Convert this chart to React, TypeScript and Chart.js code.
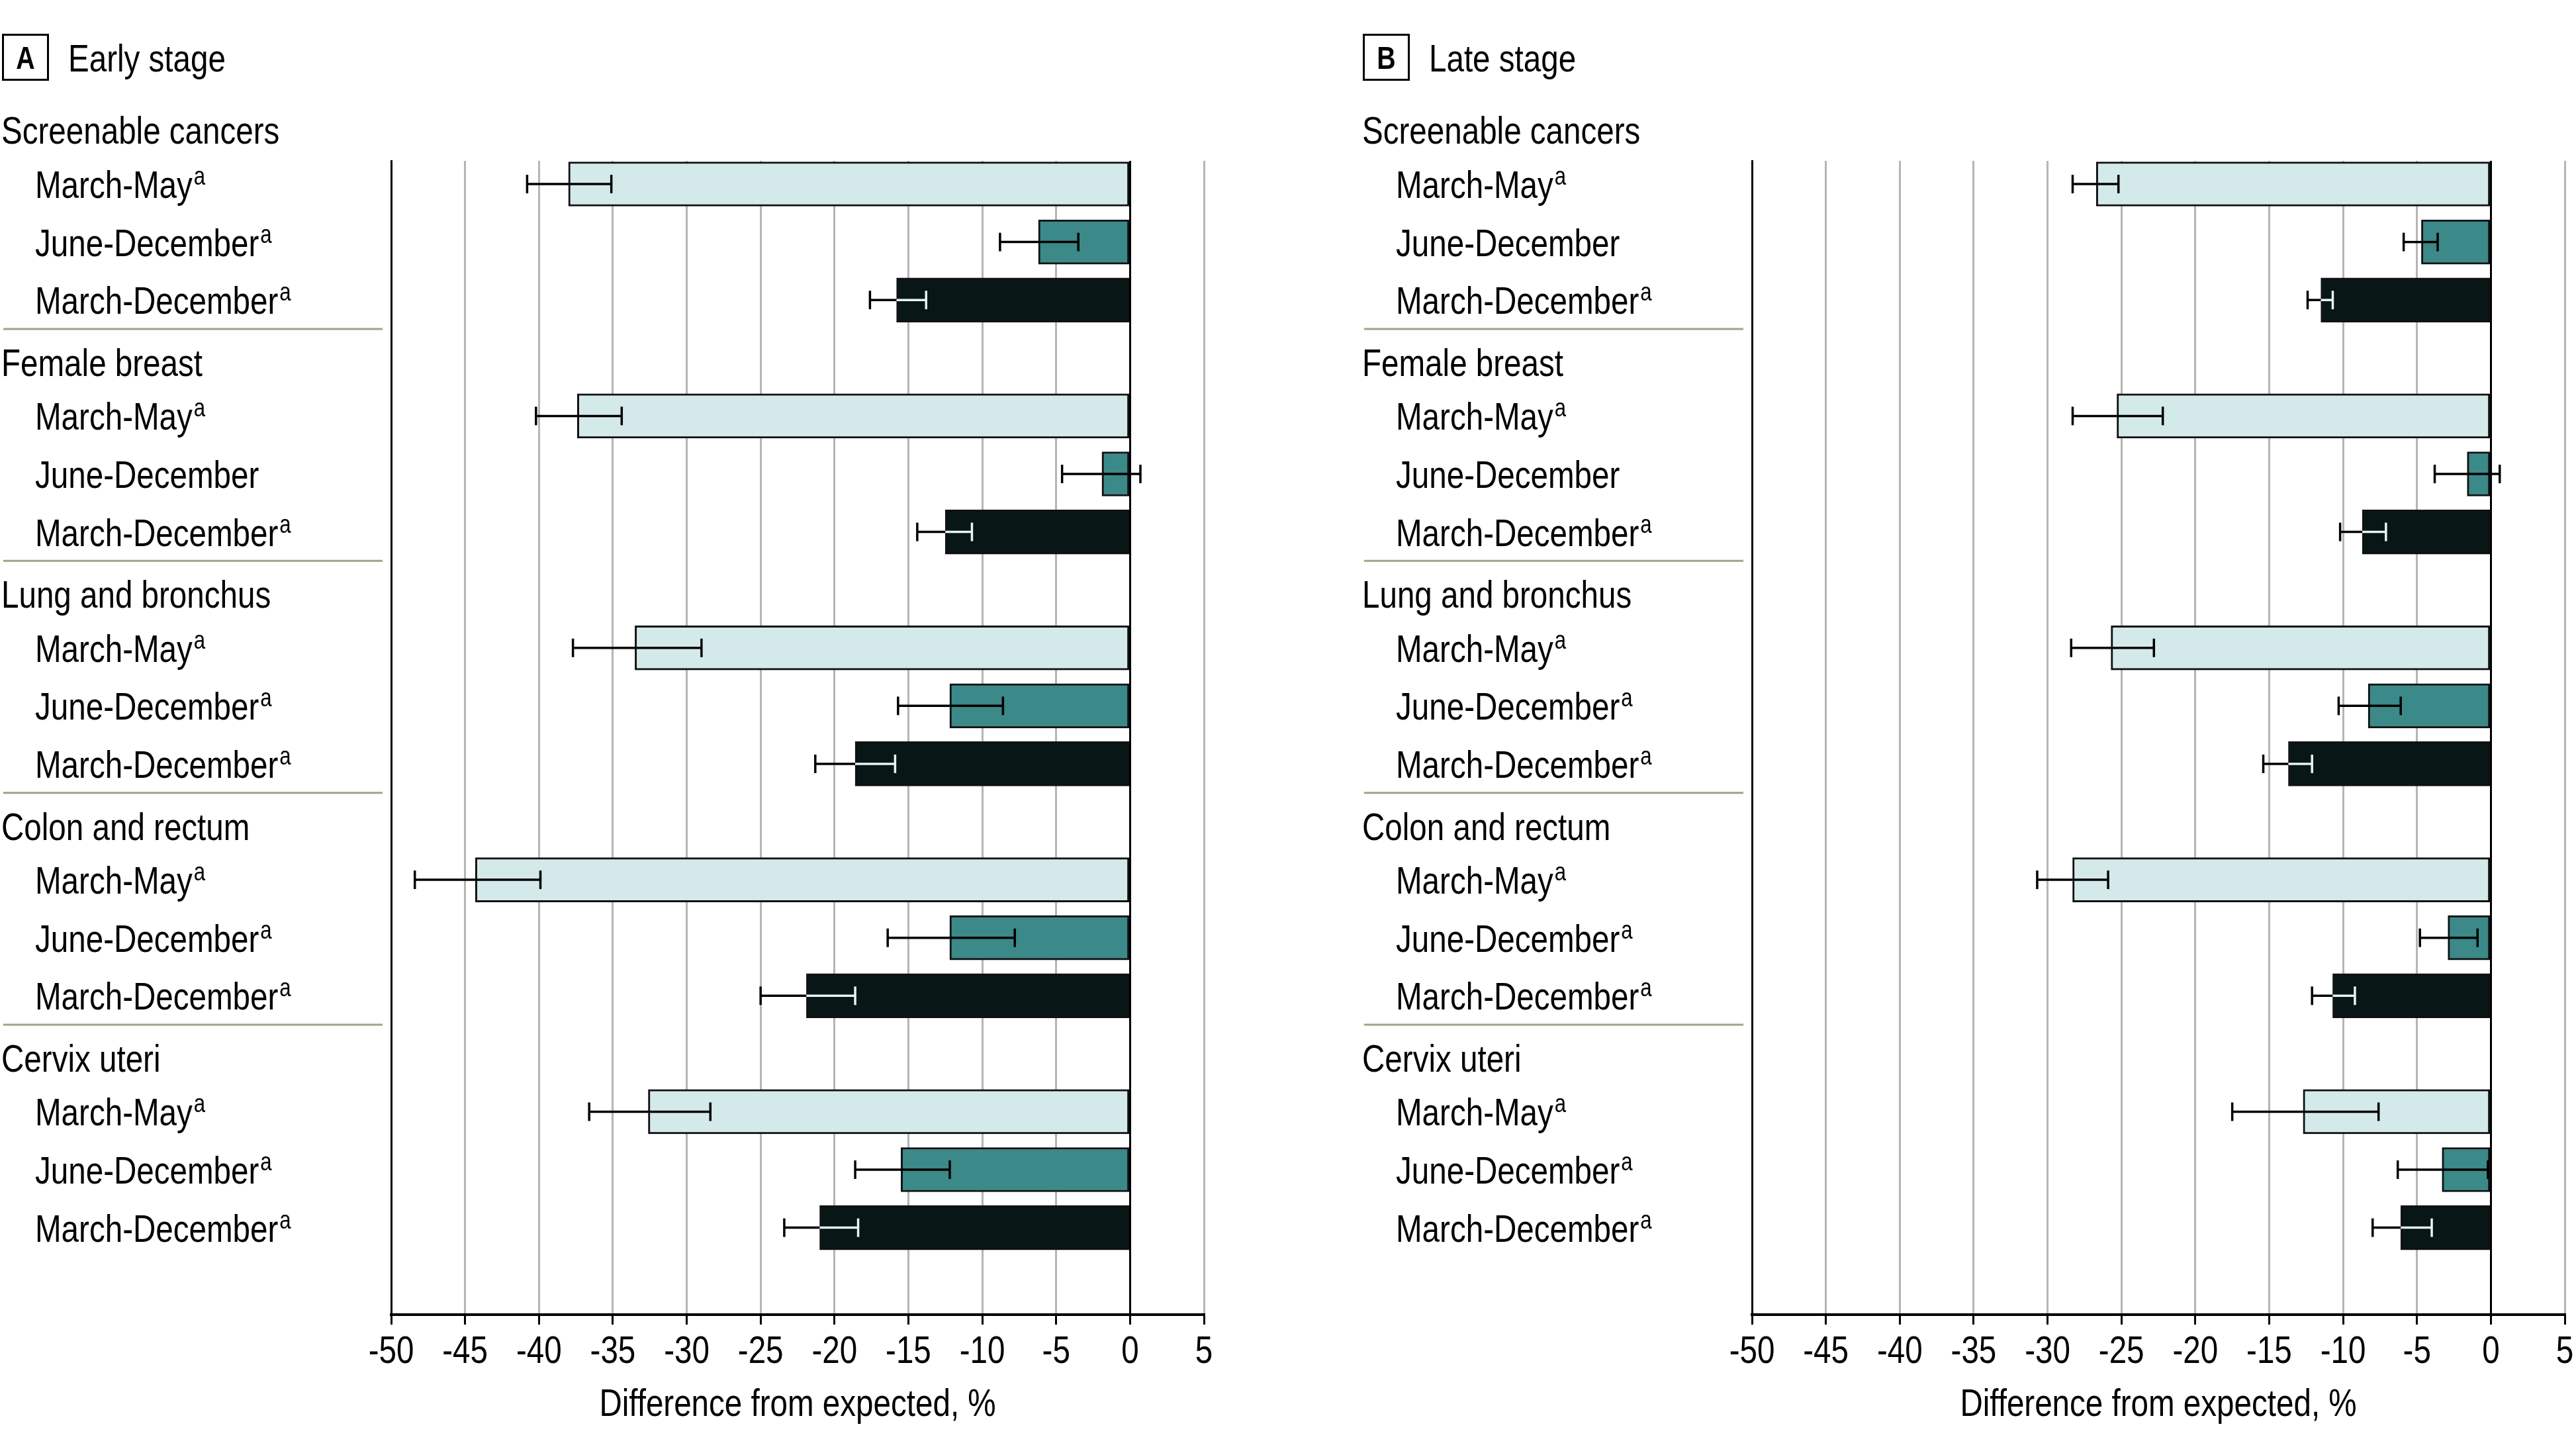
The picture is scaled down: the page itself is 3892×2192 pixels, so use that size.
import React, { useEffect, useRef } from 'react';
import { Chart, registerables } from 'chart.js';

Chart.register(...registerables);

const FONT = '"Liberation Sans", Arial, sans-serif';
const SX = 0.82; // horizontal compression to emulate a narrow face

const groups = ['Screenable cancers', 'Female breast', 'Lung and bronchus', 'Colon and rectum', 'Cervix uteri'];
const periods = ['March-May', 'June-December', 'March-December'];
const xTickMin = -50;
const xTickMax = 5;
const xTickStep = 5;
const axisTitle = 'Difference from expected, %';

// Early stage (panel A), order: group x period
const earlyValues = [-38.0, -6.2, -15.8, -37.4, -1.9, -12.5, -33.5, -12.2, -18.6, -44.3, -12.2, -21.9, -32.6, -15.5, -21.0];
const earlyLow = [-40.8, -8.8, -17.6, -40.2, -4.6, -14.4, -37.7, -15.7, -21.3, -48.4, -16.4, -25.0, -36.6, -18.6, -23.4];
const earlyHigh = [-35.1, -3.5, -13.8, -34.4, 0.7, -10.7, -29.0, -8.6, -15.9, -39.9, -7.8, -18.6, -28.4, -12.2, -18.4];
const earlySup = [true, true, true, true, false, true, true, true, true, true, true, true, true, true, true];

// Late stage (panel B)
const lateValues = [-26.7, -4.7, -11.5, -25.3, -1.6, -8.7, -25.7, -8.3, -13.7, -28.3, -2.9, -10.7, -12.7, -3.3, -6.1];
const lateLow = [-28.3, -5.9, -12.4, -28.3, -3.8, -10.2, -28.4, -10.3, -15.4, -30.7, -4.8, -12.1, -17.5, -6.3, -8.0];
const lateHigh = [-25.2, -3.6, -10.7, -22.2, 0.6, -7.1, -22.8, -6.1, -12.1, -25.9, -0.9, -9.2, -7.6, -0.2, -4.0];
const lateSup = [true, false, true, true, false, true, true, true, true, true, true, true, true, true, true];

const periodColors = ['#d4e9ea', '#3b8988', '#081716'];
const periodInnerErr = ['#000000', '#000000', '#e8f4f4'];

const W = 1834;
const H = 2192;

type PanelProps = {
  letter: string;
  title: string;
  values: number[];
  lows: number[];
  highs: number[];
  sups: boolean[];
  left: number;
};

function slotOf(i: number) {
  const g = Math.floor(i / 3);
  const p = i % 3;
  return 4 * g + p + 1;
}

function drawText(
  c: CanvasRenderingContext2D,
  text: string,
  x: number,
  y: number,
  size: number,
  bold = false,
  align: 'left' | 'center' = 'left'
) {
  c.save();
  c.font = `${bold ? 'bold ' : ''}${size}px ${FONT}`;
  c.textAlign = 'left';
  c.textBaseline = 'alphabetic';
  const w = c.measureText(text).width * SX;
  const x0 = align === 'center' ? x - w / 2 : x;
  c.translate(x0, y);
  c.scale(SX, 1);
  c.fillText(text, 0, 0);
  c.restore();
  return w;
}

function Panel({ letter, title, values, lows, highs, sups, left }: PanelProps) {
  const ref = useRef<HTMLCanvasElement | null>(null);

  useEffect(() => {
    const canvas = ref.current;
    if (!canvas) return;

    const errorBars = {
      id: 'errorBars',
      afterDatasetsDraw(chart: any) {
        const c = chart.ctx;
        const xs = chart.scales.x;
        const meta = chart.getDatasetMeta(0);
        const base = xs.getPixelForValue(0);
        c.save();
        c.lineWidth = 3.5;
        meta.data.forEach((bar: any, i: number) => {
          const p = i % 3;
          const y = bar.y;
          const xv = bar.x;
          const xlo = xs.getPixelForValue(lows[i]);
          const xhi = xs.getPixelForValue(highs[i]);
          const inside = (x: number) => x > Math.min(xv, base) && x < Math.max(xv, base);
          const colAt = (x: number) => (inside(x) ? periodInnerErr[p] : '#000');
          const lo = Math.min(xlo, xhi);
          const hi = Math.max(xlo, xhi);
          const cuts = [Math.min(xv, base), Math.max(xv, base)].filter((v) => v > lo && v < hi);
          const pts = [lo, ...cuts, hi];
          for (let k = 0; k < pts.length - 1; k++) {
            const a = pts[k];
            const b = pts[k + 1];
            c.strokeStyle = colAt((a + b) / 2);
            c.beginPath();
            c.moveTo(a, y);
            c.lineTo(b, y);
            c.stroke();
          }
          [xlo, xhi].forEach((x) => {
            c.strokeStyle = colAt(x);
            c.beginPath();
            c.moveTo(x, y - 14);
            c.lineTo(x, y + 14);
            c.stroke();
          });
        });
        c.restore();
      },
    };

    const labels = {
      id: 'rowLabels',
      afterDraw(chart: any) {
        const c = chart.ctx;
        const ys = chart.scales.y;
        const xs = chart.scales.x;
        c.save();
        c.fillStyle = '#000';
        c.strokeStyle = '#000';
        // panel box and title
        c.lineWidth = 3;
        c.strokeRect(4.5, 52.5, 68, 68);
        drawText(c, letter, 38.5, 87 + 17, 48, true, 'center');
        drawText(c, title, 103, 87 + 21, 58);

        groups.forEach((g, gi) => {
          const hy = ys.getPixelForValue(4 * gi);
          drawText(c, g, 2, hy + 6 + 21, 58);
          periods.forEach((p, pi) => {
            const idx = gi * 3 + pi;
            const y = ys.getPixelForValue(4 * gi + pi + 1);
            const w = drawText(c, p, 53, y + 21, 58);
            if (sups[idx]) {
              drawText(c, 'a', 53 + w + 2, y + 21 - 20, 38);
            }
          });
          if (gi < groups.length - 1) {
            const sy = ys.getPixelForValue(4 * gi + 3.5);
            c.strokeStyle = '#9ea38b';
            c.lineWidth = 3;
            c.beginPath();
            c.moveTo(5, sy);
            c.lineTo(578, sy);
            c.stroke();
          }
        });

        // tick labels from the x scale
        xs.ticks.forEach((t: any) => {
          const x = xs.getPixelForValue(t.value);
          drawText(c, String(t.label), x, 2059, 58, false, 'center');
        });
        // axis title
        drawText(c, axisTitle, (xs.left + xs.right) / 2, 2139, 58, false, 'center');
        c.restore();
      },
    };

    const chart = new Chart(canvas, {
      type: 'bar',
      data: {
        datasets: [
          {
            data: values.map((v, i) => ({ x: v, y: slotOf(i) })),
            backgroundColor: values.map((_, i) => periodColors[i % 3]),
            borderColor: '#111111',
            borderWidth: 3,
            borderSkipped: false,
            barThickness: 67,
          } as any,
        ],
      },
      options: {
        animation: false,
        responsive: false,
        maintainAspectRatio: false,
        indexAxis: 'y',
        layout: { padding: { left: 0, right: 15, top: 243, bottom: 0 } },
        plugins: { legend: { display: false }, tooltip: { enabled: false } },
        scales: {
          x: {
            type: 'linear',
            position: 'bottom',
            min: xTickMin,
            max: xTickMax,
            offset: false,
            ticks: {
              stepSize: xTickStep,
              display: false,
              maxRotation: 0,
              autoSkip: false,
            },
            grid: {
              color: (ctx: any) =>
                ctx.tick && (ctx.tick.value === 0 || ctx.tick.value === xTickMin) ? '#000000' : '#b5b5b5',
              lineWidth: 3,
              drawTicks: true,
              tickLength: 15,
              tickColor: '#000',
              tickWidth: 3,
            },
            border: { display: true, color: '#000', width: 4 },
            title: { display: false },
            afterFit: (s: any) => {
              s.height = H - 1986;
            },
          },
          y: {
            type: 'linear',
            position: 'left',
            reverse: true,
            offset: false,
            min: 0.6,
            max: 20.5,
            ticks: { display: false },
            grid: { display: false, drawTicks: false, offset: false },
            border: { display: true, color: '#000', width: 3 },
            afterFit: (s: any) => {
              s.width = 591;
            },
          },
        } as any,
      },
      plugins: [errorBars, labels],
    });
    return () => chart.destroy();
  }, []);

  return (
    <canvas
      ref={ref}
      width={W}
      height={H}
      style={{ position: 'absolute', left, top: 0, width: W, height: H }}
    />
  );
}

export default function App() {
  return (
    <div style={{ position: 'absolute', left: 0, top: 0, width: 3892, height: 2192, background: '#fff', overflow: 'hidden' }}>
      <Panel letter="A" title="Early stage" values={earlyValues} lows={earlyLow} highs={earlyHigh} sups={earlySup} left={0} />
      <Panel letter="B" title="Late stage" values={lateValues} lows={lateLow} highs={lateHigh} sups={lateSup} left={2056} />
    </div>
  );
}
